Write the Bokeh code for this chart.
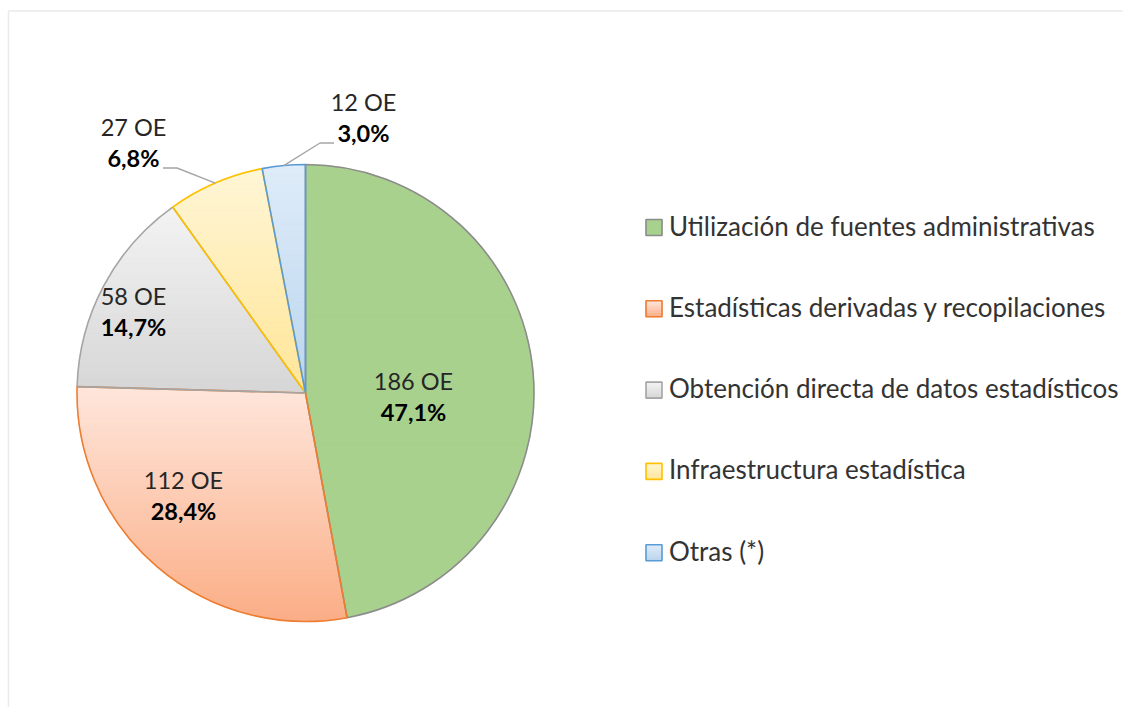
import math
from bokeh.plotting import figure
from bokeh.models import Range1d, BoxAnnotation
from bokeh.core.properties import value
from bokeh.embed import file_html
from bokeh.resources import INLINE

# ---------------- data ----------------
categories = [
    "Utilización de fuentes administrativas",
    "Estadísticas derivadas y recopilaciones",
    "Obtención directa de datos estadísticos",
    "Infraestructura estadística",
    "Otras (*)",
]
counts = [186, 112, 58, 27, 12]
unit = "OE"

# ---------------- styles ----------------
line_colors = ["#8c8c8c", "#ed7d31", "#a5a5a5", "#ffc000", "#5b9bd5"]
grad_top = ["#a9d18e", "#fee6dc", "#f3f3f3", "#fff6d6", "#dfecf9"]
grad_bottom = ["#a9d18e", "#fbae86", "#d6d6d6", "#ffe597", "#bad5ee"]
FONT = "Lato"
TXT = "#262626"
LEG_TXT = "#333333"

W, H = 1123, 707


def px(xp):  # screen x -> data x
    return xp


def py(yp):  # screen y -> data y
    return H - yp


cx, cy, R = px(305), py(392.5), 228.5

# label layout: offset of label block centre from pie centre (data units)
label_off = [(108, -3), (-122, -102), (-172, 82), (-172, 250.5), (58, 275.5)]
outside = [False, False, False, True, True]

p = figure(width=W, height=H, x_range=Range1d(0, W), y_range=Range1d(0, H),
           output_backend="svg", toolbar_location=None, min_border=0,
           x_axis_location=None, y_axis_location=None)
p.grid.visible = False
p.outline_line_color = None
p.background_fill_color = "white"
p.border_fill_color = "white"


def hex2rgb(h):
    h = h.lstrip("#")
    return [int(h[i:i + 2], 16) for i in (0, 2, 4)]


def mix(c1, c2, t):
    a, b = hex2rgb(c1), hex2rgb(c2)
    return "#%02x%02x%02x" % tuple(int(round(a[i] + (b[i] - a[i]) * t)) for i in range(3))


def clip_half(pts, keep, ycut):
    out = []
    n = len(pts)
    for i in range(n):
        a, b = pts[i], pts[(i + 1) % n]
        ia, ib = keep(a[1]), keep(b[1])
        if ia:
            out.append(a)
        if ia != ib:
            t = (ycut - a[1]) / (b[1] - a[1])
            out.append((a[0] + t * (b[0] - a[0]), ycut))
    return out


def gradient_bands(poly, top, bottom, n=60):
    ys = [q[1] for q in poly]
    ymin, ymax = min(ys), max(ys)
    h = (ymax - ymin) / n
    xs_out, ys_out, cols = [], [], []
    for k in range(n):
        lo = ymin + k * h
        hi = lo + h + 0.7
        pts = clip_half(poly, lambda y: y >= lo, lo)
        if pts:
            pts = clip_half(pts, lambda y: y <= hi, hi)
        if len(pts) >= 3:
            xs_out.append([q[0] for q in pts])
            ys_out.append([q[1] for q in pts])
            cols.append(mix(bottom, top, (k + 0.5) / n))
    return xs_out, ys_out, cols


total = sum(counts)
fracs = [c / total for c in counts]
starts, ends, mids = [], [], []
cum = 0.0
for f in fracs:
    a0 = math.pi / 2 - 2 * math.pi * cum
    a1 = math.pi / 2 - 2 * math.pi * (cum + f)
    starts.append(a0)
    ends.append(a1)
    mids.append((a0 + a1) / 2)
    cum += f

# gradient fills of slices
bx, by, bc = [], [], []
for i in range(len(counts)):
    m = max(8, int(abs(starts[i] - ends[i]) * 60))
    poly = [(cx, cy)] + [
        (cx + R * math.cos(starts[i] + (ends[i] - starts[i]) * j / m),
         cy + R * math.sin(starts[i] + (ends[i] - starts[i]) * j / m))
        for j in range(m + 1)
    ]
    xs_, ys_, cs_ = gradient_bands(poly, grad_top[i], grad_bottom[i])
    bx += xs_; by += ys_; bc += cs_
p.patches(bx, by, fill_color=bc, line_color=bc, line_width=0.5)

# slice outlines
p.wedge(x=[cx] * len(counts), y=[cy] * len(counts), radius=R,
        start_angle=starts, end_angle=ends, direction="clock",
        fill_color=None, line_color=line_colors, line_width=1.6)

# data labels
for i, c in enumerate(counts):
    pct = ("%.1f" % (100 * c / total)).replace(".", ",") + "%"
    lx, ly = cx + label_off[i][0], cy + label_off[i][1]
    p.text(x=[lx], y=[ly + 15.5], text=["%d %s" % (c, unit)], text_font=value(FONT),
           text_font_size="23.5px", text_color=TXT, text_align="center", text_baseline="middle")
    p.text(x=[lx], y=[ly - 15.5], text=[pct], text_font=value(FONT), text_font_style="bold",
           text_font_size="23.5px", text_color="#000000", text_align="center", text_baseline="middle")
    if outside[i]:
        ex, ey = cx + R * math.cos(mids[i]), cy + R * math.sin(mids[i])
        sgn = 1 if label_off[i][0] < 0 else -1
        p.line([ex, lx + sgn * 43.5, lx + sgn * 29.5], [ey, ly - 25.5, ly - 25.5],
               line_color="#a6a6a6", line_width=1.4)

# legend
leg_x, leg_y0, leg_dy, sq = px(653.5), py(227), 81.3, 16
for i, name in enumerate(categories):
    yy = leg_y0 - i * leg_dy
    poly = [(leg_x - sq / 2, yy - sq / 2), (leg_x + sq / 2, yy - sq / 2),
            (leg_x + sq / 2, yy + sq / 2), (leg_x - sq / 2, yy + sq / 2)]
    xs_, ys_, cs_ = gradient_bands(poly, grad_top[i], grad_bottom[i], n=8)
    p.patches(xs_, ys_, fill_color=cs_, line_color=cs_, line_width=0.5)
    p.rect(x=[leg_x], y=[yy], width=sq, height=sq, fill_color=None,
           line_color=line_colors[i], line_width=1.6)
    p.text(x=[leg_x + 15], y=[yy + 2], text=[name], text_font=value(FONT),
           text_font_size="26px", text_color=LEG_TXT, text_align="left", text_baseline="middle")

# chart-area border (only top and left visible in frame)
p.add_layout(BoxAnnotation(left=px(8), right=W + 50, top=py(10.5), bottom=-50,
                           fill_alpha=0, line_color="#bdbdbd", line_width=1.6))

open("out.html", "w").write(file_html(p, INLINE))
